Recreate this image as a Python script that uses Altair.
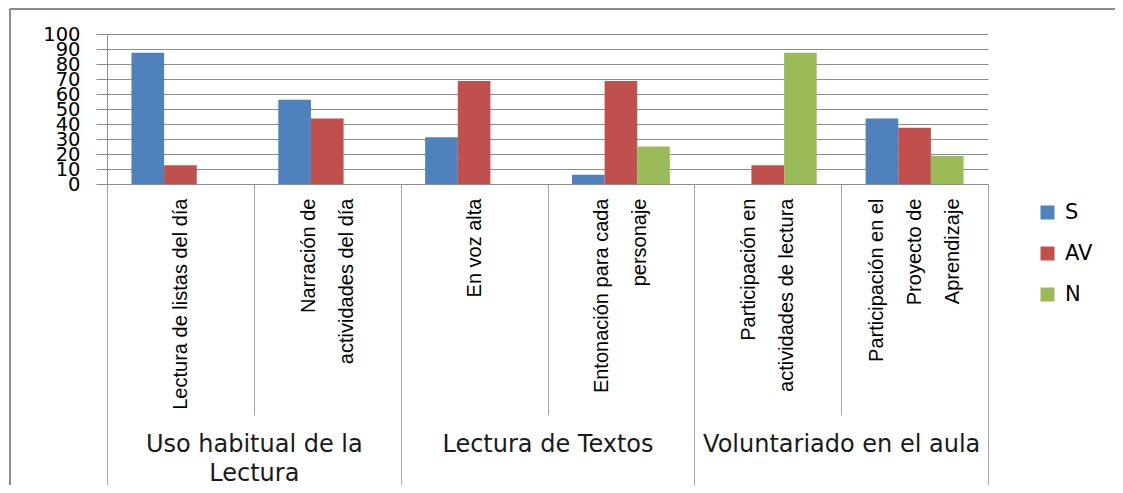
import altair as alt
import pandas as pd

categories = [
    "Lectura de listas del día",
    "Narración de\nactividades del día",
    "En voz alta",
    "Entonación para cada\npersonaje",
    "Participación en\nactividades de  lectura",
    "Participación en el\nProyecto de\nAprendizaje",
]
groups = ["Uso habitual de la\nLectura", "Lectura de Textos", "Voluntariado en el aula"]
category_group = [0, 0, 1, 1, 2, 2]
series = ["S", "AV", "N"]
s_values = [87.5, 56.25, 31.25, 6.25, None, 43.75]
av_values = [12.5, 43.75, 68.75, 68.75, 12.5, 37.5]
n_values = [None, None, None, 25, 87.5, 18.75]
colors = ["#4F81BD", "#C0504D", "#9BBB59"]
y_ticks = list(range(0, 101, 10))

rows = []
for i, cat in enumerate(categories):
    for name, vals in zip(series, [s_values, av_values, n_values]):
        v = vals[i]
        if v is not None:
            rows.append({"category": cat, "group": groups[category_group[i]],
                         "series": name, "value": v})
df = pd.DataFrame(rows)

GRID = "#8c8c8c"
TICK = "#a6a6a6"
LH = 38

label_offset = {
    "condition": [
        {"test": "length(split(datum.value, '\\n')) == 3", "value": -LH},
        {"test": "length(split(datum.value, '\\n')) == 2", "value": -LH / 2},
    ],
    "value": 0,
}

y_enc = alt.Y("value:Q", scale=alt.Scale(domain=[0, 100], nice=False),
              axis=alt.Axis(title=None, values=y_ticks, tickSize=11, tickColor=GRID,
                            grid=True, gridColor=GRID, domainColor=GRID,
                            labelFont="DejaVu Sans", labelFontSize=19.5,
                            labelColor="#000000", labelPadding=16,
                            labelOverlap=False, labelBaseline="middle"))

bars = alt.Chart(df).mark_bar().encode(
    x=alt.X("category:N", sort=categories,
            scale=alt.Scale(type="band", paddingInner=0, paddingOuter=0),
            axis=alt.Axis(orient="bottom", title=None, labelAngle=270,
                          labelAlign="right", labelBaseline="middle",
                          labelExpr="split(datum.label, '\\n')",
                          labelLineHeight=LH, labelFont="Liberation Sans",
                          labelFontSize=20, labelColor="#000000", labelLimit=0,
                          labelOverlap=False, labelPadding=-217,
                          labelOffset=label_offset,
                          tickBand="extent", tickSize=231, tickColor=TICK,
                          domainColor=GRID)),
    xOffset=alt.XOffset("series:N", sort=series,
                        scale=alt.Scale(domain=series, paddingInner=0, paddingOuter=0.75)),
    y=y_enc,
    color=alt.Color("series:N", sort=series,
                    scale=alt.Scale(domain=series, range=colors),
                    legend=alt.Legend(title=None, orient="none", legendX=930, legendY=168,
                                      symbolType="square", symbolSize=196,
                                      symbolStrokeWidth=0, labelFont="DejaVu Sans",
                                      labelFontSize=21, labelColor="#000000",
                                      rowPadding=19, labelOffset=7, padding=0)),
)

group_axis = alt.Chart(df).mark_point(opacity=0).encode(
    x=alt.X("group:N", sort=groups,
            scale=alt.Scale(type="band", paddingInner=0, paddingOuter=0),
            axis=alt.Axis(orient="bottom", title=None, labelAngle=0,
                          labelAlign="center", labelBaseline="top",
                          labelExpr="split(datum.label, '\\n')",
                          labelLineHeight=29, labelFont="DejaVu Sans",
                          labelFontSize=24, labelColor="#1a1a1a", labelLimit=0,
                          labelOverlap=False, labelPadding=-61,
                          tickBand="extent", tickSize=309, tickColor=TICK,
                          domain=False)),
    y=y_enc,
)

frame_data = alt.Data(values=[{"k": 1}])
frame_top = alt.Chart(frame_data).mark_rule(stroke="#8c8c8c", strokeWidth=2).encode(
    x=alt.value(-97), x2=alt.value(1300), y=alt.value(-25)
)
frame_left = alt.Chart(frame_data).mark_rule(stroke="#8c8c8c", strokeWidth=2).encode(
    x=alt.value(-97), y=alt.value(-25), y2=alt.value(700)
)

chart = alt.layer(frame_top, frame_left, bars, group_axis).resolve_scale(x="independent").properties(
    width=881, height=150,
    padding={"left": 99, "top": 26, "right": 127, "bottom": 301},
    autosize="none",
).configure_view(strokeWidth=0)

chart.save("out.html", embed_options={"renderer": "svg", "actions": False})
